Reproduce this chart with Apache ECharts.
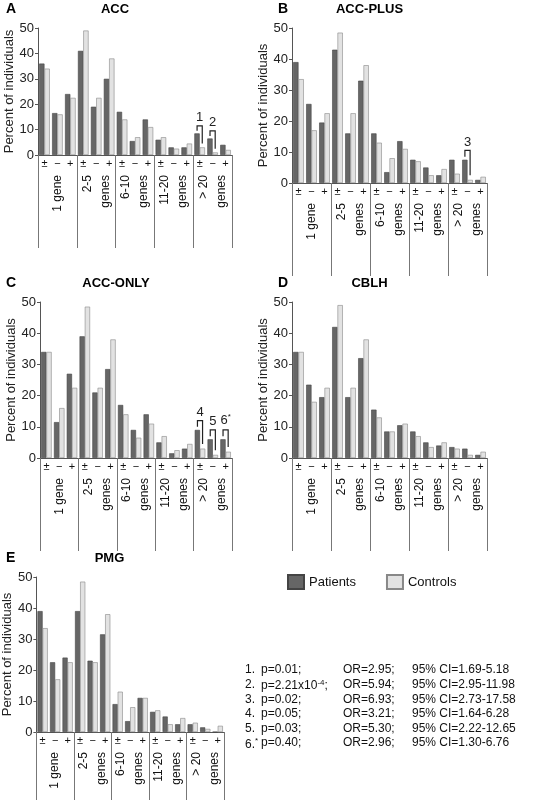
<!DOCTYPE html>
<html><head><meta charset="utf-8">
<script src="https://cdn.jsdelivr.net/npm/echarts@6/dist/echarts.min.js"></script>
<style>html,body{margin:0;background:#fff}#main{width:540px;height:800px}</style>
</head><body><div id="main"></div>
<script>
var signs = ['±', '−', '+', '±', '−', '+', '±', '−', '+', '±', '−', '+', '±', '−', '+'];
var groups = ['1 gene', '2-5\ngenes', '6-10\ngenes', '11-20\ngenes', '> 20\ngenes'];
var titles = ['ACC', 'ACC-PLUS', 'ACC-ONLY', 'CBLH', 'PMG'];
var letters = ['A', 'B', 'C', 'D', 'E'];

var patientsA = [36, 16.5, 24, 41, 19, 30, 17, 5.5, 14, 6, 3, 3, 8.5, 6.5, 4];
var controlsA = [34, 16, 22.5, 49, 22.5, 38, 14, 7, 11, 7, 2.5, 4.5, 3, 1, 2];
var patientsB = [39, 25.5, 19.5, 43, 16, 33, 16, 3.5, 13.5, 7.5, 5, 2.5, 7.5, 7.5, 1];
var controlsB = [33.5, 17, 22.5, 48.5, 22.5, 38, 13, 8, 11, 7, 2.5, 4.5, 3, 1, 2];
var patientsC = [34, 11.5, 27, 39, 21, 28.5, 17, 9, 14, 5, 1.5, 3, 9, 6, 6];
var controlsC = [34, 16, 22.5, 48.5, 22.5, 38, 14, 6.5, 11, 7, 2.5, 4.5, 3, 1, 2];
var patientsD = [34, 23.5, 19.5, 42, 19.5, 32, 15.5, 8.5, 10.5, 8.5, 5, 4, 3.5, 3, 1];
var controlsD = [34, 18, 22.5, 49, 22.5, 38, 13, 8.5, 11, 7, 3.5, 5, 3, 1, 2];
var patientsE = [39, 22.5, 24, 39, 23, 31.5, 9, 3.5, 11, 6.5, 5, 2.5, 2.5, 1.5, 0];
var controlsE = [33.5, 17, 22.5, 48.5, 22.5, 38, 13, 8, 11, 7, 2.5, 4.5, 3, 1, 2];
var patients = [patientsA, patientsB, patientsC, patientsD, patientsE];
var controls = [controlsA, controlsB, controlsC, controlsD, controlsE];
// significance marks: [panel, category, label]
var marks = [[0, 12, '1'], [0, 13, '2'], [1, 13, '3'], [2, 12, '4'], [2, 13, '5'], [2, 14, '6{s|*}']];

var notesNum = ['1.', '2.', '3.', '4.', '5.', '6.{s|*}'];
var notesP = ['p=0.01;', 'p=2.21x10{s|-4};', 'p=0.02;', 'p=0.05;', 'p=0.03;', 'p=0.40;'];
var notesOR = ['OR=2.95;', 'OR=5.94;', 'OR=6.93;', 'OR=3.21;', 'OR=5.30;', 'OR=2.96;'];
var notesCI = ['95% CI=1.69-5.18', '95% CI=2.95-11.98', '95% CI=2.73-17.58', '95% CI=1.64-6.28', '95% CI=2.22-12.65', '95% CI=1.30-6.76'];

// layout per panel: left, width, top, height
var boxes = [[38, 194, 28, 127], [292, 195, 28, 155], [40, 192, 302, 156], [292, 195, 302, 156], [35, 189, 577, 155]];
var letterX = [6, 278, 6, 278, 6];

var F = 'Liberation Sans, Arial, sans-serif';
var sup = {s: {fontSize: 8, verticalAlign: 'top', padding: [0, 0, 7, 0]}};
var grid = [], xAxis = [], yAxis = [], series = [], graphic = [];
boxes.forEach(function (b, i) {
    grid.push({left: b[0], width: b[1], top: b[2], height: b[3]});
    xAxis.push({type: 'category', gridIndex: i, data: signs,
        axisLine: {lineStyle: {color: '#555'}}, axisTick: {show: false},
        axisLabel: {interval: 0, color: '#111', fontSize: 11, margin: 3, fontFamily: F}});
    xAxis.push({type: 'category', gridIndex: i, data: groups, position: 'bottom',
        axisLine: {show: false},
        axisTick: {show: true, length: 93, lineStyle: {color: '#777'}},
        axisLabel: {interval: 0, rotate: 90, color: '#111', fontSize: 12, margin: 20, fontFamily: F, lineHeight: 18}});
    yAxis.push({type: 'value', gridIndex: i, min: 0, max: 50, interval: 10,
        name: 'Percent of individuals', nameLocation: 'middle', nameGap: 21,
        nameTextStyle: {fontSize: 13, color: '#222', fontFamily: F},
        splitLine: {show: false},
        axisLine: {show: true, lineStyle: {color: '#555'}},
        axisTick: {show: true, length: 3, lineStyle: {color: '#555'}},
        axisLabel: {fontSize: 13, color: '#222', margin: 4, fontFamily: F}});
    series.push({type: 'bar', name: 'Patients', xAxisIndex: 2 * i, yAxisIndex: i, data: patients[i],
        barGap: '0%', barCategoryGap: '18%',
        itemStyle: {color: '#666', borderColor: '#444', borderWidth: 0.6}});
    series.push({type: 'bar', name: 'Controls', xAxisIndex: 2 * i, yAxisIndex: i, data: controls[i],
        itemStyle: {color: '#e2e2e2', borderColor: '#888', borderWidth: 0.6}});
    var mk = marks.filter(function (m) { return m[0] === i; }).map(function (m) {
        return [m[1], patients[i][m[1]], controls[i][m[1]], m[2]];
    });
    if (mk.length) series.push({type: 'custom', xAxisIndex: 2 * i, yAxisIndex: i, data: mk, silent: true,
        renderItem: function (params, api) {
            var c = api.value(0), hp = api.value(1), hc = api.value(2);
            var w = api.size([1, 0])[0];
            var top = api.coord([c, hp + 3])[1];
            var bottom = api.coord([c, hc + 1.5])[1];
            var pb = api.coord([c, hp + 1])[1];
            var x0 = api.coord([c, 0])[0];
            var xl = x0 - 0.2 * w, xr = x0 + 0.2 * w;
            return {type: 'group', children: [
                {type: 'polyline', shape: {points: [[xl, pb], [xl, top], [xr, top], [xr, bottom]]},
                    style: {stroke: '#222', lineWidth: 1.2, fill: null}},
                {type: 'text', style: {text: mk[params.dataIndex][3], x: x0, y: top - 2, fill: '#222',
                    font: '13px ' + F, textAlign: 'center', textVerticalAlign: 'bottom', rich: sup}}
            ]};
        }});
    graphic.push({type: 'text', x: letterX[i], y: b[2] - 26, style: {text: letters[i], font: 'bold 14px ' + F, fill: '#000'}});
    graphic.push({type: 'text', x: b[0] + b[1] / 2 - 20, y: b[2] - 25, style: {text: titles[i], font: 'bold 13px ' + F, fill: '#000', textAlign: 'center'}});
});
notesNum.forEach(function (n, k) {
    var y = 664 + k * 14.6;
    graphic.push({type: 'text', x: 245, y: y, style: {text: n, font: '12px ' + F, fill: '#111', rich: sup}});
    graphic.push({type: 'text', x: 261, y: y, style: {text: notesP[k], font: '12px ' + F, fill: '#111', rich: sup}});
    graphic.push({type: 'text', x: 343, y: y, style: {text: notesOR[k], font: '12px ' + F, fill: '#111'}});
    graphic.push({type: 'text', x: 412, y: y, style: {text: notesCI[k], font: '12px ' + F, fill: '#111'}});
});

var myChart = echarts.init(document.getElementById('main'));
myChart.setOption({
    backgroundColor: '#fff',
    animation: false,
    legend: {left: 282, top: 569, itemGap: 30, itemWidth: 16, itemHeight: 14, icon: 'rect',
        data: ['Patients', 'Controls'], textStyle: {fontSize: 13, color: '#111', fontFamily: F}},
    grid: grid, xAxis: xAxis, yAxis: yAxis, series: series, graphic: graphic
});
</script></body></html>
